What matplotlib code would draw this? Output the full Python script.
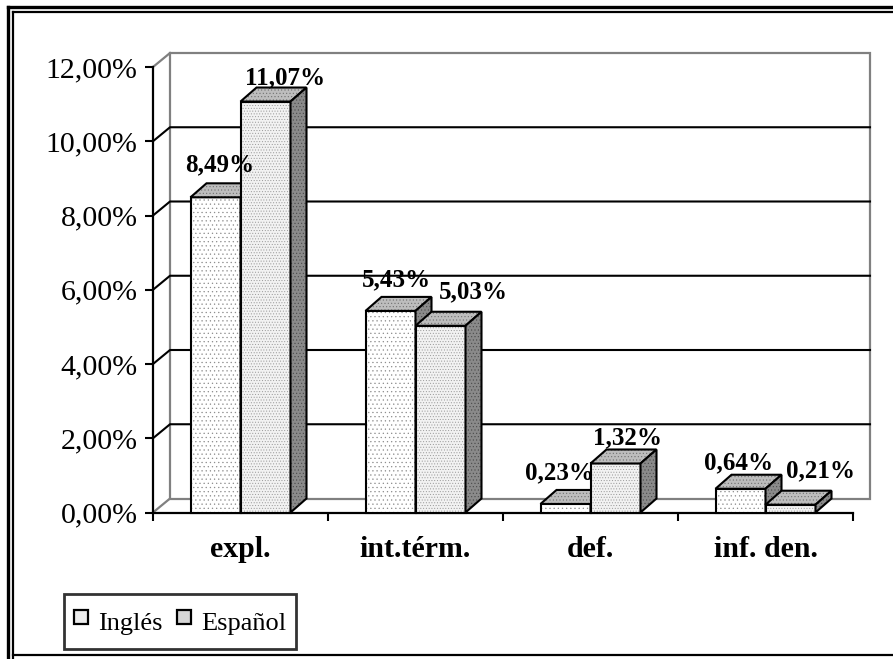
import matplotlib
matplotlib.use("Agg")
import matplotlib.pyplot as plt
from matplotlib.patches import Polygon
from matplotlib.lines import Line2D

plt.rcParams['font.family'] = ['Liberation Serif', 'DejaVu Serif']
plt.rcParams['hatch.linewidth'] = 0.4

categories = ['expl.', 'int.térm.', 'def.', 'inf. den.']
ingles = [8.49, 5.43, 0.23, 0.64]
espanol = [11.07, 5.03, 1.32, 0.21]
series_names = ['Inglés', 'Español']
yticks = [0, 2, 4, 6, 8, 10, 12]

# label nudges (pixels) so value labels don't collide
ing_shift = [(-4, 18), (-2, 17), (-14, 17), (-10, 12)]
esp_shift = [(12, 10), (25, 20), (4, 12), (22, 20)]

W, H = 893, 659
fig = plt.figure(figsize=(W / 100, H / 100), dpi=100)
ax = fig.add_axes([153 / W, 146.5 / H, 700 / W, 445.5 / H])
ax.set_xlim(0, 4)
ax.set_ylim(0, 12)
ax.patch.set_visible(False)

# depth of the 3d box in data units
px_x = 4 / 700
px_y = 12 / 445.5
wdx, wdy = 17 * px_x, 14 * px_y      # walls
bdx, bdy = 16 * px_x, 14 * px_y      # bars
bw = 50 * px_x
top = yticks[-1]
GRAY = '#808080'

# side wall + back wall
ax.add_patch(Polygon([(0, 0), (wdx, wdy), (wdx, top + wdy), (0, top)],
                     closed=True, facecolor='white', edgecolor='none',
                     clip_on=False, zorder=0))
ax.add_patch(Polygon([(wdx, wdy), (4 + wdx, wdy), (4 + wdx, top + wdy), (wdx, top + wdy)],
                     closed=True, facecolor='white', edgecolor=GRAY, lw=1.6,
                     clip_on=False, zorder=0))
ax.plot([0, wdx], [top, top + wdy], color=GRAY, lw=1.6, clip_on=False, zorder=0.5)
ax.plot([0, wdx], [0, wdy], color=GRAY, lw=1.6, clip_on=False, zorder=0.5)

# gridlines on back and side wall
for v in yticks[1:-1]:
    ax.plot([0, wdx, 4 + wdx], [v, v + wdy, v + wdy], color='black', lw=1.5,
            clip_on=False, zorder=1)


def face(pts, fc, hc, hatch, z):
    ax.add_patch(Polygon(pts, closed=True, facecolor=fc, edgecolor=hc, lw=0,
                         hatch=hatch, clip_on=False, zorder=z))
    ax.add_patch(Polygon(pts, closed=True, fill=False, edgecolor='black', lw=1.5,
                         clip_on=False, zorder=z + 0.01))


def bar3d(x0, h, front_fc, front_hc, front_hatch, z):
    x1 = x0 + bw
    face([(x0, 0), (x1, 0), (x1, h), (x0, h)], front_fc, front_hc, front_hatch, z)
    face([(x0, h), (x1, h), (x1 + bdx, h + bdy), (x0 + bdx, h + bdy)],
         '#bdbdbd', '#707070', '.....', z + 0.1)
    face([(x1, 0), (x1 + bdx, bdy), (x1 + bdx, h + bdy), (x1, h)],
         '#8a8a8a', '#4a4a4a', '.....', z + 0.2)


def value_label(xc, h, shift):
    txt = f'{h:.2f}%'.replace('.', ',')
    ax.annotate(txt, (xc + bdx / 2, h + bdy), xytext=shift,
                textcoords='offset pixels', ha='center', va='center',
                fontsize=18, fontweight='bold', zorder=20, annotation_clip=False)


for i in range(len(categories)):
    c = i + 0.5
    z = 3 + i
    bar3d(c - bw, ingles[i], 'white', '#8c8c8c', '....', z)
    bar3d(c, espanol[i], '#f2f2f2', '#9a9a9a', '......', z + 0.5)
    value_label(c - bw / 2, ingles[i], ing_shift[i])
    value_label(c + bw / 2, espanol[i], esp_shift[i])

# axes, ticks
for s in ['top', 'right']:
    ax.spines[s].set_visible(False)
for s in ['left', 'bottom']:
    ax.spines[s].set_linewidth(1.6)
    ax.spines[s].set_zorder(2)
ax.set_yticks(yticks)
ax.set_yticklabels([f'{v:.2f}%'.replace('.', ',') for v in yticks], fontsize=21.5)
ax.set_xticks(range(len(categories) + 1))
ax.set_xticklabels([])
ax.set_xticks([i + 0.5 for i in range(len(categories))], minor=True)
ax.set_xticklabels(categories, minor=True, fontsize=21.5, fontweight='bold')
ax.tick_params(axis='both', which='major', direction='out', length=6, width=1.5)
ax.tick_params(axis='y', pad=5)
ax.tick_params(axis='x', which='minor', length=0, pad=17)

# legend
handles = [Line2D([], [], ls='none', marker='s', markersize=10.5,
                  markerfacecolor=fc, markeredgecolor='black', markeredgewidth=1.6)
           for fc in ['#ececec', '#d6d6d6']]
leg = fig.legend(handles, series_names, loc='lower left',
                 bbox_to_anchor=(64 / W, 10 / H), ncol=2, fontsize=19,
                 frameon=True, fancybox=False, borderpad=0.4, borderaxespad=0,
                 handlelength=0.5, handleheight=1.6, handletextpad=0.38,
                 columnspacing=0.58)
leg.get_frame().set_edgecolor('black')
leg.get_frame().set_linewidth(2)

# double frame around the chart
for x, lw in [(8, 2.4), (13, 1.6)]:
    fig.add_artist(Line2D([x / W, x / W], [0, 1 - (x - 1) / H], color='black', lw=lw))
for y, lw in [(7, 2.4), (12, 1.6)]:
    fig.add_artist(Line2D([(y + 1) / W, 1], [1 - y / H, 1 - y / H], color='black', lw=lw))
fig.add_artist(Line2D([13 / W, 1], [1 - 655 / H, 1 - 655 / H], color='black', lw=1.6))

fig.savefig('out.png', dpi=100)
